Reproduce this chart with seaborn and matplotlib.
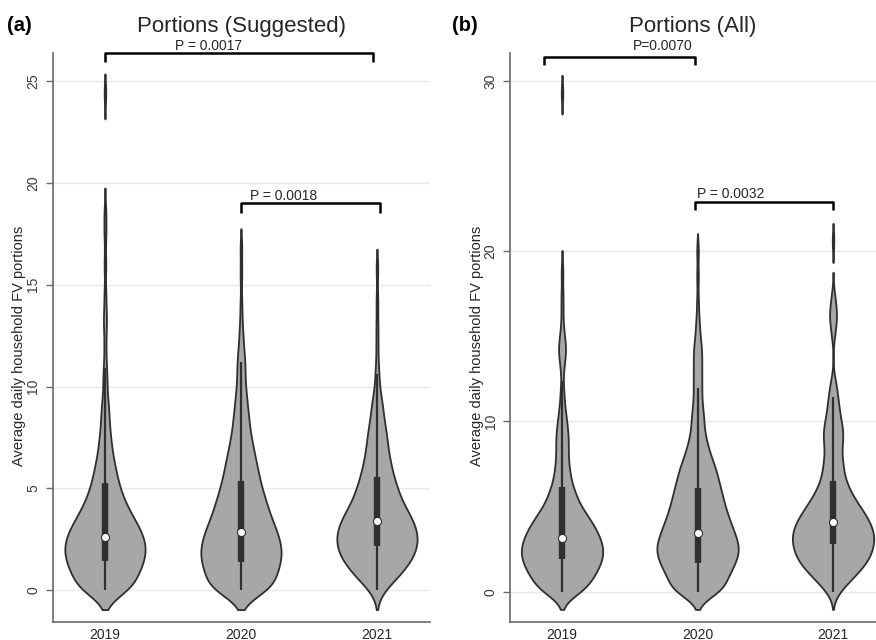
import numpy as np
import pandas as pd
import matplotlib
matplotlib.use("Agg")
import matplotlib.pyplot as plt
from matplotlib.collections import PolyCollection
import seaborn as sns

# ---------------- data ----------------
years = ["2019", "2020", "2021"]

# bin centres of the household FV-portion histogram (values >= 0)
bin_values = [0.0, 0.5, 1.0, 1.5, 2.0, 2.5, 3.0, 3.5, 4.0, 4.5, 5.0, 5.5,
              6.0, 6.5, 7.0, 7.5, 8.0, 8.5, 9.0, 9.5, 10.0, 10.5, 11.0, 11.5, 12.0]

# (a) Portions (Suggested): counts per bin + sparse upper-tail observations
counts_a_2019 = [15, 14, 17, 19, 20, 19, 17, 14, 11, 9, 7, 6, 5, 4, 3, 3, 2, 2, 2, 1, 1, 1, 1, 0, 1]
counts_a_2020 = [18, 16, 18, 20, 20, 19, 17, 15, 13, 12, 10, 9, 8, 7, 6, 5, 4, 4, 3, 3, 2, 2, 2, 2, 1]
counts_a_2021 = [3, 9, 13, 17, 19, 20, 19, 17, 14, 11, 10, 8, 7, 6, 5, 5, 4, 3, 3, 2, 1, 1, 1, 0, 1]
tail_a_2019 = [13.0, 13.5, 14.5, 16.0, 17.5, 18.5, 24.4]
tail_a_2020 = [12.5, 13.0, 14.0, 15.5, 16.8]
tail_a_2021 = [13.0, 14.2, 15.8]

# (b) Portions (All)
counts_b_2019 = [12, 13, 16, 18, 20, 20, 19, 17, 15, 12, 9, 7, 6, 4, 4, 3, 3, 3, 3, 3, 2, 2, 1, 1, 1]
counts_b_2020 = [15, 12, 15, 17, 19, 20, 19, 17, 16, 14, 13, 12, 11, 10, 9, 8, 6, 5, 4, 3, 3, 3, 2, 2, 2]
counts_b_2021 = [3, 7, 11, 15, 18, 19, 20, 20, 18, 16, 13, 10, 8, 6, 5, 5, 4, 4, 5, 5, 4, 3, 3, 2, 2]
tail_b_2019 = [13.0, 13.5, 14.0, 14.0, 14.5, 14.5, 15.0, 15.5, 16.5, 17.5, 18.8, 29.3]
tail_b_2020 = [12.5, 12.5, 13.0, 13.0, 13.5, 13.5, 14.0, 14.0, 14.5, 14.5, 15.0, 15.5, 16.0, 17.0, 18.5, 20.0]
tail_b_2021 = [12.5, 15.0, 15.5, 16.0, 16.0, 16.5, 16.5, 17.0, 17.5, 20.6]

# box statistics (lower whisker, Q1, median, Q3, upper adjacent value)
whis_lo_a = [0.0, 0.0, 0.0]
q1_a = [1.44, 1.37, 2.17]
median_a = [2.63, 2.85, 3.40]
q3_a = [5.28, 5.38, 5.58]
whis_hi_a = [10.9, 11.2, 10.6]

whis_lo_b = [0.0, 0.0, 0.0]
q1_b = [1.90, 1.71, 2.80]
median_b = [3.15, 3.47, 4.08]
q3_b = [6.17, 6.08, 6.50]
whis_hi_b = [12.4, 11.95, 11.46]

# significance annotations: text, left-category, right-category
p_labels_a = ["P = 0.0017", "P = 0.0018"]
p_pairs_a = [(0, 2), (1, 2)]
p_labels_b = ["P=0.0070", "P = 0.0032"]
p_pairs_b = [(0, 1), (1, 2)]

titles = ["Portions (Suggested)", "Portions (All)"]
panel_tags = ["(a)", "(b)"]
ylabel = "Average daily household FV portions"


def build_frame(count_lists, tail_lists):
    rows = []
    for yr, cnt, tail in zip(years, count_lists, tail_lists):
        vals = list(np.repeat(bin_values, cnt)) + list(tail)
        rows.append(pd.DataFrame({"year": yr, "value": vals}))
    return pd.concat(rows, ignore_index=True)


df_a = build_frame([counts_a_2019, counts_a_2020, counts_a_2021],
                   [tail_a_2019, tail_a_2020, tail_a_2021])
df_b = build_frame([counts_b_2019, counts_b_2020, counts_b_2021],
                   [tail_b_2019, tail_b_2020, tail_b_2021])

# ---------------- style ----------------
sns.set_theme(style="white")
plt.rcParams["font.family"] = ["Liberation Sans", "DejaVu Sans"]

FILL = "#a7a7a7"
EDGE = "#2f2f2f"
BOXC = "#303030"
SPINE = "#6a6a6a"
TEXTC = "#262626"
BW = 0.55        # kernel bandwidth in data units
VIOLIN_LW = 1.3


def bw_abs(kde):
    return BW / np.std(kde.dataset, ddof=1)


def drop_empty_density(ax, thr):
    """Redraw each seaborn violin without its zero-density stretches."""
    for coll in [c for c in ax.collections if isinstance(c, PolyCollection)]:
        v = coll.get_paths()[0].vertices
        xc = 0.5 * (v[:, 0].min() + v[:, 0].max())
        uy, inv = np.unique(v[:, 1], return_inverse=True)
        hw = np.zeros(len(uy))
        np.maximum.at(hw, inv, np.abs(v[:, 0] - xc))
        mask = hw > thr
        edges = np.diff(np.concatenate([[0], mask.astype(int), [0]]))
        starts = np.where(edges == 1)[0]
        stops = np.where(edges == -1)[0]
        z = coll.get_zorder()
        coll.remove()
        for s, e in zip(starts, stops):
            if e - s < 2:
                continue
            ax.fill_betweenx(uy[s:e], xc - hw[s:e], xc + hw[s:e],
                             facecolor=FILL, edgecolor=EDGE,
                             linewidth=VIOLIN_LW, zorder=z)


fig = plt.figure(figsize=(8.76, 6.4), dpi=100)
ax_a = fig.add_axes([53 / 876, 18 / 640, 377 / 876, 569 / 640])
ax_b = fig.add_axes([510 / 876, 18 / 640, 366 / 876, 569 / 640])


def draw_panel(ax, df, lo, q1, med, q3, hi, ylim, xlim, yticks, bottom, width):
    ax.yaxis.grid(True, color="#e8e8e8", lw=1.0)
    ax.xaxis.grid(False)
    ax.set_axisbelow(True)
    sns.violinplot(data=df, x="year", y="value", order=years, ax=ax,
                   inner=None, color=FILL, saturation=1, linewidth=VIOLIN_LW,
                   linecolor=EDGE, density_norm="width", width=width,
                   cut=bottom / BW, bw_method=bw_abs, gridsize=800)
    drop_empty_density(ax, 0.0004)
    pos = np.arange(len(years))
    ax.vlines(pos, lo, hi, color=BOXC, lw=1.6, zorder=3)
    ax.vlines(pos, q1, q3, color=BOXC, lw=4.6, zorder=3)
    ax.scatter(pos, med, s=34, color="white", edgecolor=BOXC,
               linewidth=0.8, zorder=4)
    ax.set_ylim(*ylim)
    ax.set_xlim(*xlim)
    ax.set_yticks(yticks)
    ax.set_xlabel("")
    ax.set_ylabel(ylabel, fontsize=10.5, color=TEXTC)
    ax.yaxis.set_label_coords(-0.072, 0.485)
    for s in ["top", "right"]:
        ax.spines[s].set_visible(False)
    for s in ["left", "bottom"]:
        ax.spines[s].set_color(SPINE)
        ax.spines[s].set_linewidth(1.2)
    ax.tick_params(axis="y", left=True, length=5, width=1, color=SPINE,
                   labelsize=10, labelcolor="#3a3a3a", pad=4)
    for lab in ax.get_yticklabels():
        lab.set_rotation(90)
        lab.set_va("center")
    ax.tick_params(axis="x", bottom=False, length=0, labelsize=10,
                   labelcolor=TEXTC, pad=4)


draw_panel(ax_a, df_a, whis_lo_a, q1_a, median_a, q3_a, whis_hi_a,
           (-1.56, 26.38), (-0.382, 2.39), [0, 5, 10, 15, 20, 25], 0.95, 0.59)
draw_panel(ax_b, df_b, whis_lo_b, q1_b, median_b, q3_b, whis_hi_b,
           (-1.78, 31.65), (-0.384, 2.317), [0, 10, 20, 30], 1.04, 0.60)


def bracket(ax, x0, x1, ytop, yfoot, text, tx, ty):
    ax.plot([x0, x0, x1, x1], [yfoot, ytop, ytop, yfoot], color="black",
            lw=1.8, clip_on=False, solid_capstyle="butt", zorder=5)
    ax.text(tx, ty, text, ha="left", va="baseline", fontsize=10,
            color=TEXTC, clip_on=False)


# bracket geometry (annotation placement)
bracket(ax_a, p_pairs_a[0][0] + 0.0, p_pairs_a[0][1] - 0.03, 26.4, 25.95,
        p_labels_a[0], 0.515, 26.52)
bracket(ax_a, p_pairs_a[1][0] + 0.0, p_pairs_a[1][1] + 0.02, 19.0, 18.5,
        p_labels_a[1], 1.066, 19.16)
bracket(ax_b, p_pairs_b[0][0] - 0.13, p_pairs_b[0][1] - 0.02, 31.4, 30.95,
        p_labels_b[0], 0.524, 31.83)
bracket(ax_b, p_pairs_b[1][0] - 0.02, p_pairs_b[1][1] + 0.0, 22.9, 22.45,
        p_labels_b[1], 0.996, 23.13)

ax_a.set_title(titles[0], fontsize=16, pad=15, color=TEXTC)
ax_b.set_title(titles[1], fontsize=16, pad=15, color=TEXTC)

fig.text(7 / 876, 1 - 31 / 640, panel_tags[0], fontsize=14.5,
         fontweight="bold", va="baseline", ha="left", color="black")
fig.text(452 / 876, 1 - 31 / 640, panel_tags[1], fontsize=14.5,
         fontweight="bold", va="baseline", ha="left", color="black")

fig.savefig("out.png", dpi=100)
